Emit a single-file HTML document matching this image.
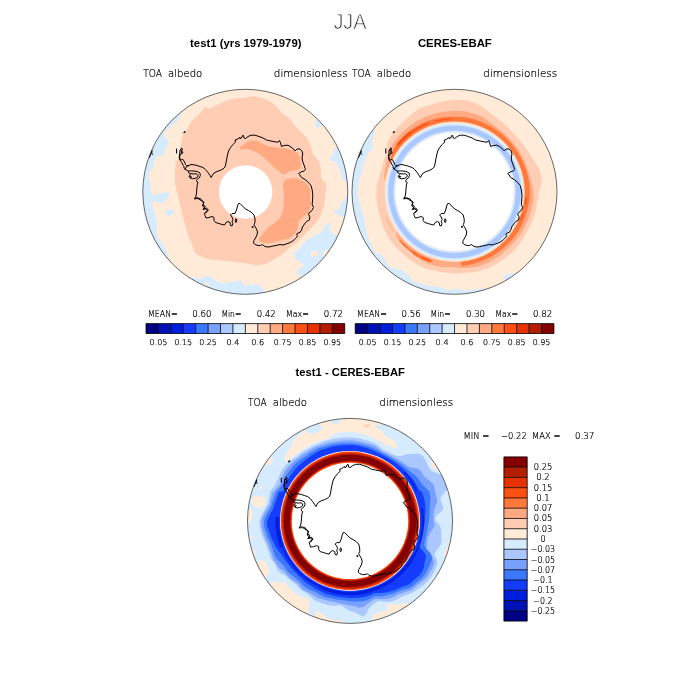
<!DOCTYPE html>
<html><head><meta charset="utf-8"><title>JJA</title>
<style>html,body{margin:0;padding:0;background:#fff}svg{display:block}text{font-family:"Liberation Sans",sans-serif}text.h{font-family:"DejaVu Sans Light","DejaVu Sans","Liberation Sans",sans-serif;font-weight:200;fill:#000;stroke:#000;stroke-width:0.2px}</style>
</head><body>
<svg width="700" height="700" viewBox="0 0 700 700">
<rect width="700" height="700" fill="#fff"/>
<defs><clipPath id="cl"><circle cx="245.3" cy="191.8" r="102.5"/></clipPath></defs>
<g clip-path="url(#cl)"><rect x="140" y="85" width="212" height="212" fill="#ffebd7"/>
<path d="M175.0,185.0 175.0,170.7 175.7,162.1 179.3,156.4 180.7,147.9 181.4,142.1 182.9,135.0 187.1,129.3 190.0,123.6 192.9,120.0 197.1,115.7 201.4,111.4 205.0,107.1 210.0,108.6 217.1,105.0 225.7,100.7 234.3,98.6 240.0,97.9 246.3,97.6 254.1,96.0 263.6,98.4 271.4,102.3 277.7,107.8 282.4,114.1 290.3,118.8 293.4,124.3 298.1,129.0 302.9,133.7 307.6,138.4 310.7,145.5 312.5,153.0 315.0,157.0 318.5,160.5 320.0,165.0 321.0,170.0 320.5,176.0 323.0,181.0 326.5,184.0 326.0,190.0 325.0,195.0 324.5,202.0 324.0,207.0 322.0,211.0 321.0,215.0 318.0,220.0 310.0,229.0 307.0,232.0 304.0,235.0 300.0,239.0 296.0,243.0 292.0,246.0 288.0,249.0 284.0,253.0 280.0,256.0 275.0,259.0 270.0,261.5 266.0,264.0 260.0,265.0 253.0,264.8 246.0,263.5 240.0,262.5 230.0,261.5 222.0,260.5 214.0,260.0 208.0,259.0 202.0,257.0 197.0,254.5 194.5,252.0 193.5,248.0 191.5,243.0 189.0,238.0 187.0,232.0 185.5,226.0 184.0,221.0 182.5,215.0 181.5,210.0 180.0,205.0 179.0,200.0 176.9,191.3 175.4,185.0Z" fill="#ffcdb4"/>
<path d="M240.0,147.5 242.0,145.5 245.0,143.5 248.0,141.5 252.0,140.5 257.0,140.8 261.0,143.0 265.0,145.0 270.0,146.5 275.0,147.5 280.0,148.0 285.0,148.5 290.0,149.5 294.0,151.0 297.5,153.0 299.5,156.0 300.5,160.0 301.0,165.0 300.0,168.5 297.0,170.0 293.0,170.5 289.0,171.5 286.0,173.5 284.0,174.5 281.0,173.0 277.0,170.0 273.0,166.5 269.0,162.5 265.0,158.5 261.0,155.0 257.0,152.5 252.0,150.5 247.0,149.0 243.0,149.0 240.0,149.5Z" fill="#ffaa82"/>
<path d="M284.0,181.0 287.0,179.0 292.0,178.0 297.0,178.5 301.0,180.0 305.0,182.0 308.0,185.0 310.0,189.0 310.5,194.0 310.5,200.0 311.0,206.0 310.0,210.0 308.0,212.5 307.5,216.0 308.0,220.0 310.0,209.5 308.0,213.0 305.0,215.5 301.5,218.5 298.5,221.5 298.0,226.0 297.0,230.0 295.0,233.5 292.0,236.5 288.0,239.0 283.0,240.0 278.0,241.0 273.0,242.5 268.0,243.0 263.0,242.5 259.5,241.0 259.0,238.5 260.5,236.5 263.5,233.5 266.0,230.0 268.0,227.0 271.0,225.5 275.0,222.5 279.0,219.0 281.5,215.0 283.0,210.0 283.5,205.0 284.0,200.0 283.5,192.0 283.0,186.0Z" fill="#ffaa82"/>
<path d="M182.9,111.4 178.6,118.6 176.4,122.1 170.7,126.4 163.6,133.6 164.3,137.1 168.6,139.3 167.9,145.0 165.0,149.3 164.3,155.0 157.1,156.4 154.3,160.7 153.6,167.9 148.6,172.1 148.6,177.9 150.7,185.0 150.2,191.3 154.1,196.0 158.9,192.9 163.6,192.9 169.1,192.1 169.9,196.0 165.9,199.9 162.0,203.9 155.7,201.5 151.8,202.3 153.4,208.6 155.7,216.4 157.3,222.7 156.5,229.0 157.3,236.9 162.0,243.1 165.9,249.4 168.3,255.7 167.5,259.6 158.9,266.7 100,260 100,100Z" fill="#d7ebff"/>
<path d="M165.1,211.7 167.5,209.4 170.6,210.1 173.0,209.4 174.9,210.9 173.8,213.3 171.4,214.1 169.9,216.4 166.7,215.6 165.1,214.1Z" fill="#d7ebff"/>
<path d="M191.9,277.7 199.7,278.5 207.6,275.4 211.5,276.9 215.4,280.9 221.7,283.2 228.0,282.4 234.3,281.6 240.6,280.1 243.7,285.6 250.0,285.6 244.7,285.6 252.6,284.0 260.4,285.6 263.6,290.3 265.1,295.0 265,320 170,320Z" fill="#d7ebff"/>
<path d="M204.5,282.5 206.2,281.8 208.5,284.0 209.0,286.2 206.5,285.5 204.8,284.5Z" fill="#ffebd7"/>
<path d="M214.0,286.0 215.5,285.8 215.8,287.0 214.2,287.2Z" fill="#ffebd7"/>
<path d="M330.3,222.3 327.7,224.0 324.3,225.7 323.0,228.3 322.6,230.9 320.0,233.4 315.7,234.3 313.1,236.0 309.7,238.6 305.4,241.1 302.9,243.7 300.3,248.0 296.9,250.6 294.3,253.1 294.3,256.6 296.0,260.0 302.0,263.0 304.0,266.0 300.0,268.5 297.0,270.0 296.6,273.0 300.5,276.1 302.9,279.3 330,300 370,260 346,237 337.6,235.6 333.7,234.3 332.0,232.6 329.4,230.0 329.0,227.4 330.7,224.9Z" fill="#d7ebff"/>
<path d="M310.1,253.1 313.1,250.6 316.6,251.0 318.3,254.0 317.4,256.1 314.0,256.6 311.0,255.7Z" fill="#ffebd7"/>
<path d="M323.9,251.4 326.0,249.3 328.6,249.7 327.7,253.1 324.3,256.6 323.0,254.9Z" fill="#ffebd7"/>
<path d="M315.1,119.6 318.6,120.4 323.3,125.1 320.1,127.4 316.2,127.4 315.1,124.3Z" fill="#d7ebff"/>
<path d="M335.1,147.1 350.0,160.4 350.0,183.0 346.5,182.0 343.0,180.0 341.5,175.0 340.0,170.0 337.0,165.0 336.0,161.5 330.5,161.0 330.0,158.0 332.0,155.0 334.0,150.0Z" fill="#d7ebff"/>
<path d="M346.0,196.0 344.0,200.0 341.4,202.6 339.7,206.9 338.0,210.3 334.6,211.1 334.1,212.9 338.0,214.6 340.6,216.3 343.1,217.1 344.9,215.9 352,214 352,195Z" fill="#d7ebff"/>
<circle cx="245.60000000000002" cy="192.0" r="26.8" fill="#fff"/>
<g fill="none" stroke="#000" stroke-width="1" stroke-linejoin="round"><polyline points="182.0,148.0 180.5,150.0 182.0,151.5 181.0,154.0 179.5,156.5 180.0,159.0 181.5,160.0 182.5,159.0 184.0,161.0 185.0,163.0 185.5,164.5 186.5,165.5 189.0,165.5 191.0,164.5 194.0,164.8 197.0,165.5 200.0,166.5 203.0,167.5 205.5,169.5 208.0,172.5 210.0,175.5 211.2,177.5 212.5,175.0 214.0,173.0 217.0,171.5 220.0,170.5 223.0,169.0 225.0,167.0 225.8,164.0 226.5,160.0 227.5,155.0 228.5,151.0 230.5,147.5 233.0,144.5 235.5,142.0 235.0,140.0 237.0,139.5 239.0,138.0 240.0,137.5 240.0,138.5 241.5,138.0 242.5,135.5 243.5,135.5 244.0,138.0 245.5,138.5 248.0,136.5 251.0,135.2 255.0,135.2 259.0,136.5 263.0,138.0 266.5,140.0 271.0,141.0 275.0,141.8 278.0,142.2 279.5,140.5 280.5,143.0 281.5,146.5 284.0,145.5 288.0,145.2 291.0,147.0 294.0,149.5 295.0,151.0 297.0,149.0 300.0,149.0 302.0,151.0 302.8,154.0 302.0,157.0 302.5,161.0 304.0,165.0 305.5,169.5 304.0,171.0 301.0,172.0 298.5,173.5 300.0,175.0 301.0,177.0 301.5,177.5 305.0,179.5 308.5,182.5 311.0,185.5 312.2,190.0 312.8,195.0 312.5,200.0 312.2,204.5 313.5,207.5 312.0,210.5 309.5,212.5 308.5,214.5 309.8,216.5 309.5,220.0 306.5,221.5 304.5,224.0 302.5,227.0 301.5,230.0 300.0,232.5 298.0,233.0 296.5,234.0 297.5,235.5 296.5,237.5 294.5,239.5 292.0,241.5 289.0,243.0 286.0,244.0 283.0,245.0 280.0,244.5 276.0,245.5 273.0,246.0 270.0,246.8 267.0,247.0 264.0,246.0 262.5,244.5 260.5,245.5 258.0,245.5 255.0,244.5 253.5,243.0 254.0,240.5 255.5,238.0 257.0,235.0 257.5,232.0 256.5,229.0 255.0,226.5 254.0,224.5 255.0,222.5 255.0,219.0 254.0,215.0 251.5,212.5 248.5,210.5 245.5,209.0 242.5,206.0 240.0,203.5 240.0,203.5 238.5,203.5 237.5,206.0 236.5,210.0 235.0,213.5 232.0,213.5 230.5,215.0 232.0,217.0 233.0,219.5 232.0,221.5 232.8,223.5 232.0,226.0 230.5,225.5 230.0,222.5 228.0,221.5 226.0,222.5 224.5,225.0 222.0,224.5 219.0,223.5 215.5,222.5 214.0,220.5 214.0,217.5 212.0,216.5 209.0,217.5 206.0,218.0 205.0,215.5 204.5,213.0 206.5,212.5 207.5,210.0 205.5,209.0 203.0,209.5 204.5,207.5 202.5,206.0 203.5,203.5 202.5,201.0 200.0,200.0 200.0,200.0 199.0,198.5 197.5,197.5 196.0,199.0 194.5,198.5 196.0,196.0 196.5,193.0 196.8,189.0 197.2,185.0 198.0,182.5 197.0,182.0 196.5,180.5 197.7,178.9 199.4,177.7 200.3,175.4 200.0,173.1 197.7,171.7 194.9,171.1 191.4,170.9 188.6,171.1 185.1,169.4 183.7,168.0 184.3,166.9 183.4,165.7 182.0,162.9 180.0,160.0 179.2,157.1 179.7,154.0 180.0,150.0 182.0,148.0"/><polyline points="188.6,171.1 188.4,172.8 190.5,173.6 194.0,174.0 196.2,173.7 197.7,174.6 198.1,176.0 197.0,177.6 195.0,178.4 192.5,178.8 190.3,178.2 189.2,176.8 189.6,175.2 191.0,174.6"/><polyline points="190.8,176.0 191.5,176.8 190.8,177.6 190.0,176.8 190.8,176.0"/><polyline points="185.1,169.4 185.7,168.0 186.8,166.3 189.1,165.7"/><polyline points="180.8,147.6 182.8,149.5 181.2,151.0 183.0,152.5 181.5,154.0"/><polyline points="176.5,148.5 176.6,153.5"/><polyline points="183.8,132.4 185.2,131.8"/><polyline points="236.0,218.7 236.8,220.0 236.4,222.2 235.5,222.2 235.2,220.5 236.0,218.7"/><polyline points="251.8,227.0 253.0,226.2 253.2,227.4 251.8,227.0"/><polyline points="149,158 150.5,155 151.5,151.5 152,150.4 151.8,153.5 152.6,154.8"/><polyline points="183.6,132.6 185.2,131.7 185.0,132.4 183.8,132.8"/><polyline points="201.2,200.2 204.0,202.2 202.8,204.8 205.2,206.2 203.8,208.4 206.6,208.2 208.4,209.8 207.0,211.6 205.6,212.0"/><polyline points="194.5,199.0 196.2,197.6 198.0,199.0 200.0,198.4 201.8,200.0"/></g>
</g>
<circle cx="245.3" cy="191.8" r="102.5" fill="none" stroke="#2a2a2a" stroke-width="0.7"/>
<defs><clipPath id="cr"><circle cx="454.5" cy="191.8" r="102.5"/></clipPath></defs>
<g clip-path="url(#cr)"><rect x="350" y="85" width="212" height="212" fill="#ffebd7"/>
<path d="M371.2,126.6 375.1,132.1 372.0,140.0 372.8,147.9 368.9,152.6 365.7,158.9 362.6,166.7 361.8,173.0 359.4,179.3 357.9,187.1 357.1,195.0 357.9,194.4 359.4,202.3 361.8,210.1 364.1,219.6 365.7,227.4 367.3,235.3 370.4,243.1 373.6,249.4 376.7,254.1 381.4,254.1 386.1,260.4 388.5,266.7 394.0,268.3 401.9,269.9 408.1,274.6 412.9,280.9 419.1,283.2 428.6,285.6 438.0,287.1 447.4,289.5 460.0,293.4 450.0,290.3 456.3,288.7 462.6,289.5 465.7,293.4 468.9,295.0 470,300 345,300 345,100Z" fill="#d7ebff"/>
<path d="M503.4,276.9 506.6,274.6 512.9,273.0 519.1,275.4 523.9,273.0 528.6,279.3 512.9,291.9Z" fill="#d7ebff"/>
<path d="M463.0,291.2 467.0,290.5 472.0,289.8 480.0,288.8 485.0,288.3 486.5,290.0 476.0,295.0 463.0,297.0Z" fill="#d7ebff"/>
<path d="M454.5,100.1 457.7,100.0 460.9,100.0 464.1,100.1 467.3,100.6 470.4,101.4 473.5,102.4 476.5,103.7 479.3,105.2 482.1,106.8 484.7,108.7 487.3,110.7 489.7,112.7 492.2,114.4 494.7,116.3 497.0,118.2 499.4,120.0 501.7,121.9 503.9,123.8 506.1,125.8 508.2,127.8 510.2,129.9 512.2,132.1 514.2,134.1 516.2,136.3 518.1,138.4 520.0,140.6 521.8,142.9 523.5,145.2 525.3,147.6 527.0,150.0 528.6,152.4 530.2,154.9 531.8,157.4 533.4,159.9 534.9,162.5 536.6,165.1 538.6,167.7 539.6,170.6 540.4,173.5 541.2,176.5 541.4,179.6 541.5,182.7 541.1,185.7 540.0,188.8 538.9,191.8 538.6,194.7 538.2,197.7 537.6,200.5 537.2,203.4 536.7,206.3 536.1,209.1 535.4,212.0 534.6,214.8 533.7,217.5 532.6,220.2 531.4,222.9 530.1,225.5 528.9,228.1 527.6,230.7 526.2,233.2 524.7,235.7 523.3,238.2 521.7,240.6 520.1,243.0 518.4,245.4 516.5,247.7 514.6,249.9 512.6,252.0 510.4,253.9 508.2,255.7 505.8,257.5 503.5,259.2 501.1,260.9 498.7,262.6 496.2,264.1 493.7,265.4 491.0,266.7 488.4,267.9 485.7,269.0 483.0,270.1 480.2,270.9 477.4,271.6 474.5,272.1 471.7,272.5 468.8,272.7 465.9,272.7 463.0,273.1 460.2,273.4 457.4,273.6 454.5,273.4 451.7,273.1 448.8,272.8 446.0,272.6 443.2,272.3 440.4,271.9 437.6,271.3 434.8,270.7 432.0,270.1 429.3,269.4 426.5,268.7 423.8,267.7 421.3,266.5 418.7,265.2 416.2,263.8 413.8,262.3 411.4,260.7 409.1,259.1 406.9,257.4 404.7,255.6 402.6,253.7 400.6,251.7 398.6,249.7 396.7,247.7 394.7,245.6 392.9,243.5 391.1,241.4 389.4,239.1 388.0,236.7 386.6,234.2 385.3,231.7 384.1,229.2 383.1,226.6 382.1,224.0 381.3,221.4 380.5,218.7 379.8,216.1 379.1,213.4 378.4,210.8 377.9,208.1 377.4,205.4 376.9,202.7 376.5,200.0 376.5,197.3 376.5,194.5 376.5,191.8 376.5,189.1 376.7,186.4 377.1,183.7 377.9,181.0 378.6,178.4 379.3,175.8 380.1,173.3 381.0,170.7 381.8,168.2 382.4,165.5 383.0,162.9 383.8,160.3 384.7,157.7 385.6,155.2 385.9,152.2 386.4,149.2 386.9,146.2 387.6,143.2 388.4,140.1 390.0,137.6 391.6,135.2 393.4,132.8 395.2,130.4 397.2,128.1 399.2,125.9 401.3,123.7 403.5,121.6 405.8,119.5 408.1,117.6 410.5,115.5 412.8,113.4 415.3,111.4 417.8,109.4 420.6,107.9 423.6,106.9 426.6,106.0 429.7,105.1 432.7,104.3 435.7,103.3 438.8,102.5 441.8,101.8 445.0,101.1 448.1,100.6 451.3,100.3Z" fill="#ffcdb4"/>
<path d="M454.5,110.8 457.3,110.9 460.1,111.0 463.0,111.3 465.8,111.7 468.5,112.2 471.3,112.9 474.0,113.6 476.7,114.5 479.3,115.5 481.9,116.5 484.3,118.1 486.6,119.7 488.8,121.4 491.1,122.9 493.3,124.5 495.5,126.2 497.6,127.9 499.7,129.5 501.8,131.3 503.8,133.1 505.7,134.9 507.7,136.8 509.5,138.7 511.3,140.7 513.0,142.7 514.7,144.8 516.3,146.9 517.8,149.1 519.3,151.3 520.7,153.6 522.0,155.9 523.2,158.3 524.3,160.7 525.4,163.2 526.3,165.7 527.2,168.2 528.0,170.7 528.9,173.3 529.7,175.8 530.4,178.4 530.9,181.1 531.7,183.7 532.3,186.4 532.9,189.1 533.3,191.8 533.5,194.6 533.6,197.3 533.6,200.1 532.9,202.8 532.3,205.5 531.7,208.2 531.0,210.9 530.3,213.5 529.4,216.1 528.4,218.7 527.4,221.2 526.2,223.7 525.1,226.2 523.8,228.7 522.5,231.1 521.1,233.4 519.5,235.6 517.8,237.8 516.1,239.9 514.3,241.9 512.5,244.0 510.6,246.0 508.7,247.9 506.7,249.8 504.6,251.6 502.5,253.3 500.3,254.9 498.1,256.5 495.9,258.1 493.6,259.5 491.3,260.9 488.8,262.2 486.3,263.3 483.8,264.4 481.2,265.3 478.6,266.1 476.0,266.8 473.3,267.2 470.6,267.6 467.9,267.9 465.2,268.1 462.5,268.0 459.8,267.8 457.1,267.6 454.5,267.3 451.9,266.9 449.3,266.8 446.6,266.9 443.9,266.9 441.3,266.9 438.6,266.6 436.0,266.0 433.4,265.3 430.8,264.6 428.3,263.8 425.9,262.6 423.6,261.3 421.3,259.9 419.1,258.4 416.9,256.9 414.8,255.3 412.7,253.8 410.6,252.2 408.6,250.5 406.6,248.8 404.8,247.1 402.9,245.2 401.2,243.3 399.5,241.3 398.0,239.2 396.5,237.1 396.2,234.1 396.1,231.2 396.1,228.3 395.6,225.8 394.5,223.7 393.4,221.6 392.4,219.5 391.5,217.3 390.6,215.1 389.8,212.8 389.1,210.5 388.5,208.3 388.0,205.9 387.5,203.6 387.2,201.3 386.9,198.9 386.7,196.5 386.5,194.2 386.5,191.8 386.5,189.4 386.7,187.1 386.9,184.7 385.7,182.1 384.5,179.5 384.1,176.8 384.3,174.3 384.7,171.8 385.1,169.2 385.6,166.7 386.1,164.2 386.8,161.7 387.5,159.1 388.2,156.5 388.9,153.9 389.7,151.3 390.6,148.7 391.7,146.1 393.0,143.7 394.5,141.5 396.2,139.3 397.9,137.2 399.7,135.1 401.6,133.1 403.6,131.2 405.7,129.3 407.8,127.5 410.0,125.8 412.2,124.2 414.5,122.6 416.9,121.2 419.4,119.8 421.9,118.5 424.4,117.3 427.0,116.2 429.6,115.2 432.3,114.4 435.0,113.6 437.7,112.9 440.5,112.3 443.3,111.9 446.1,111.5 448.9,111.2 451.7,110.9Z" fill="#ffaa82"/>
<path d="M454.5,116.8 457.1,116.8 459.7,116.8 462.4,117.0 465.0,117.2 467.6,117.7 470.1,118.2 472.7,118.8 475.2,119.6 477.7,120.4 480.2,121.3 482.6,122.3 485.0,123.4 487.3,124.5 489.6,125.8 491.9,127.1 494.1,128.4 496.3,129.9 498.4,131.4 500.5,132.9 502.5,134.6 504.5,136.3 506.4,138.1 508.2,139.9 510.0,141.9 511.7,143.8 513.3,145.9 514.9,148.0 516.3,150.1 517.8,152.3 519.1,154.5 520.4,156.7 521.6,159.1 522.8,161.4 523.8,163.8 524.8,166.2 525.7,168.7 526.5,171.2 527.2,173.7 527.9,176.2 528.4,178.8 528.9,181.3 529.3,183.9 529.5,186.6 529.7,189.2 529.8,191.8 529.9,194.4 529.7,197.1 529.4,199.7 529.1,202.3 528.6,204.9 528.0,207.4 527.4,210.0 526.6,212.5 525.8,215.0 525.0,217.5 524.0,219.9 523.0,222.3 521.9,224.7 520.7,227.0 519.5,229.3 518.1,231.5 516.6,233.7 515.1,235.8 513.5,237.9 511.8,239.9 510.0,241.8 508.2,243.6 506.3,245.4 504.4,247.2 502.4,248.9 500.4,250.5 498.3,252.1 496.2,253.6 494.0,255.0 491.8,256.3 489.5,257.6 487.1,258.7 484.7,259.7 482.3,260.7 479.9,261.6 477.5,262.5 475.0,263.3 472.5,264.0 470.0,264.6 467.4,265.2 464.9,265.6 462.3,265.9 459.3,260.5 456.9,260.2 454.5,259.8 452.1,259.8 449.8,259.6 447.4,259.4 445.0,259.1 442.7,258.8 440.4,258.3 438.0,257.8 435.8,257.2 433.5,256.5 431.2,255.7 429.0,254.8 426.8,253.9 424.7,252.9 422.6,251.8 420.5,250.7 418.5,249.5 416.5,248.2 414.5,246.8 412.6,245.4 410.8,243.9 409.0,242.3 407.3,240.7 405.6,239.0 404.0,237.3 402.4,235.5 400.9,233.7 399.5,231.8 398.1,229.8 396.8,227.8 395.6,225.8 394.5,223.7 393.4,221.6 392.4,219.5 391.5,217.3 390.6,215.1 389.8,212.8 389.1,210.5 388.5,208.3 388.0,205.9 387.5,203.6 387.2,201.3 386.9,198.9 386.7,196.5 386.5,194.2 386.5,191.8 386.5,189.4 386.7,187.1 386.9,184.7 387.2,182.3 387.5,180.0 388.0,177.7 388.5,175.3 389.1,173.1 389.8,170.8 390.6,168.5 390.5,166.0 390.6,163.3 390.7,160.7 391.0,158.0 391.4,155.4 391.9,152.7 392.8,150.2 394.2,148.0 395.7,145.9 397.2,143.8 398.9,141.7 400.5,139.7 402.3,137.8 404.2,135.9 406.1,134.1 408.1,132.4 410.1,130.7 412.2,129.1 414.4,127.7 416.7,126.3 419.0,125.0 421.3,123.8 423.7,122.7 426.2,121.6 428.6,120.7 431.1,119.9 433.7,119.2 436.2,118.5 438.8,118.0 441.4,117.5 444.0,117.2 446.6,116.9 449.3,116.8 451.9,116.8Z" fill="#ff783c"/>
<path d="M398.0,144.4 A73.8,73.8 0 0 1 410.1,132.9" fill="none" stroke="#ff5014" stroke-width="2.8" stroke-linecap="round"/>
<path d="M408.2,134.7 A73.5,73.5 0 0 1 428.2,123.2" fill="none" stroke="#ff5014" stroke-width="1.5" stroke-linecap="round"/>
<path d="M434.3,121.4 A73.2,73.2 0 0 1 451.9,118.6" fill="none" stroke="#ff5014" stroke-width="0.9" stroke-linecap="round"/>
<path d="M526.2,198.1 A72,72 0 0 1 525.4,204.3" fill="none" stroke="#ff5014" stroke-width="1.5" stroke-linecap="round"/>
<path d="M523.0,214.0 A72,72 0 0 1 520.8,219.9" fill="none" stroke="#ff5014" stroke-width="1.2" stroke-linecap="round"/>
<path d="M431.9,261.4 A73.2,73.2 0 0 1 400.1,240.8" fill="none" stroke="#ff783c" stroke-width="1.6" stroke-linecap="round"/>
<path d="M393.6,231.3 A72.6,72.6 0 0 1 386.3,216.6" fill="none" stroke="#ffaa82" stroke-width="0.9"/>
<path d="M429.4,260.7 A73.3,73.3 0 0 1 414.6,253.3" fill="none" stroke="#ff783c" stroke-width="3.2" stroke-linecap="round"/>
<path d="M430.7,260.8 A73.0,73.0 0 0 1 422.5,257.4" fill="none" stroke="#ff5014" stroke-width="1.2" stroke-linecap="round"/>
<path d="M416.8,254.5 A73.2,73.2 0 0 1 411.5,251.0" fill="none" stroke="#ff5014" stroke-width="1.0" stroke-linecap="round"/>
<path d="M406.5,247.0 A73.2,73.2 0 0 1 403.7,244.5" fill="none" stroke="#ff5014" stroke-width="0.9" stroke-linecap="round"/>
<circle cx="454.5" cy="191.8" r="70.3" fill="#ffcdb4"/>
<circle cx="454.5" cy="191.8" r="69.6" fill="#ffebd7"/>
<circle cx="454.5" cy="191.8" r="68.4" fill="#d7ebff"/>
<circle cx="454.5" cy="191.8" r="66.4" fill="#aac8ff"/>
<circle cx="454.5" cy="191.8" r="61.1" fill="#d7ebff"/>
<circle cx="454.5" cy="191.8" r="59.5" fill="#ffebd7"/>
<circle cx="454.5" cy="191.8" r="59.0" fill="#fff"/>
<g fill="none" stroke="#000" stroke-width="1" stroke-linejoin="round"><polyline points="391.2,148.0 389.7,150.0 391.2,151.5 390.2,154.0 388.7,156.5 389.2,159.0 390.7,160.0 391.7,159.0 393.2,161.0 394.2,163.0 394.7,164.5 395.7,165.5 398.2,165.5 400.2,164.5 403.2,164.8 406.2,165.5 409.2,166.5 412.2,167.5 414.7,169.5 417.2,172.5 419.2,175.5 420.4,177.5 421.7,175.0 423.2,173.0 426.2,171.5 429.2,170.5 432.2,169.0 434.2,167.0 435.0,164.0 435.7,160.0 436.7,155.0 437.7,151.0 439.7,147.5 442.2,144.5 444.7,142.0 444.2,140.0 446.2,139.5 448.2,138.0 449.2,137.5 449.2,138.5 450.7,138.0 451.7,135.5 452.7,135.5 453.2,138.0 454.7,138.5 457.2,136.5 460.2,135.2 464.2,135.2 468.2,136.5 472.2,138.0 475.7,140.0 480.2,141.0 484.2,141.8 487.2,142.2 488.7,140.5 489.7,143.0 490.7,146.5 493.2,145.5 497.2,145.2 500.2,147.0 503.2,149.5 504.2,151.0 506.2,149.0 509.2,149.0 511.2,151.0 512.0,154.0 511.2,157.0 511.7,161.0 513.2,165.0 514.7,169.5 513.2,171.0 510.2,172.0 507.7,173.5 509.2,175.0 510.2,177.0 510.7,177.5 514.2,179.5 517.7,182.5 520.2,185.5 521.4,190.0 522.0,195.0 521.7,200.0 521.4,204.5 522.7,207.5 521.2,210.5 518.7,212.5 517.7,214.5 519.0,216.5 518.7,220.0 515.7,221.5 513.7,224.0 511.7,227.0 510.7,230.0 509.2,232.5 507.2,233.0 505.7,234.0 506.7,235.5 505.7,237.5 503.7,239.5 501.2,241.5 498.2,243.0 495.2,244.0 492.2,245.0 489.2,244.5 485.2,245.5 482.2,246.0 479.2,246.8 476.2,247.0 473.2,246.0 471.7,244.5 469.7,245.5 467.2,245.5 464.2,244.5 462.7,243.0 463.2,240.5 464.7,238.0 466.2,235.0 466.7,232.0 465.7,229.0 464.2,226.5 463.2,224.5 464.2,222.5 464.2,219.0 463.2,215.0 460.7,212.5 457.7,210.5 454.7,209.0 451.7,206.0 449.2,203.5 449.2,203.5 447.7,203.5 446.7,206.0 445.7,210.0 444.2,213.5 441.2,213.5 439.7,215.0 441.2,217.0 442.2,219.5 441.2,221.5 442.0,223.5 441.2,226.0 439.7,225.5 439.2,222.5 437.2,221.5 435.2,222.5 433.7,225.0 431.2,224.5 428.2,223.5 424.7,222.5 423.2,220.5 423.2,217.5 421.2,216.5 418.2,217.5 415.2,218.0 414.2,215.5 413.7,213.0 415.7,212.5 416.7,210.0 414.7,209.0 412.2,209.5 413.7,207.5 411.7,206.0 412.7,203.5 411.7,201.0 409.2,200.0 409.2,200.0 408.2,198.5 406.7,197.5 405.2,199.0 403.7,198.5 405.2,196.0 405.7,193.0 406.0,189.0 406.4,185.0 407.2,182.5 406.2,182.0 405.7,180.5 406.9,178.9 408.6,177.7 409.5,175.4 409.2,173.1 406.9,171.7 404.1,171.1 400.6,170.9 397.8,171.1 394.3,169.4 392.9,168.0 393.5,166.9 392.6,165.7 391.2,162.9 389.2,160.0 388.4,157.1 388.9,154.0 389.2,150.0 391.2,148.0"/><polyline points="397.8,171.1 397.6,172.8 399.7,173.6 403.2,174.0 405.4,173.7 406.9,174.6 407.3,176.0 406.2,177.6 404.2,178.4 401.7,178.8 399.5,178.2 398.4,176.8 398.8,175.2 400.2,174.6"/><polyline points="400.0,176.0 400.7,176.8 400.0,177.6 399.2,176.8 400.0,176.0"/><polyline points="394.3,169.4 394.9,168.0 396.0,166.3 398.3,165.7"/><polyline points="390.0,147.6 392.0,149.5 390.4,151.0 392.2,152.5 390.7,154.0"/><polyline points="385.7,148.5 385.8,153.5"/><polyline points="393.0,132.4 394.4,131.8"/><polyline points="445.2,218.7 446.0,220.0 445.6,222.2 444.7,222.2 444.4,220.5 445.2,218.7"/><polyline points="461.0,227.0 462.2,226.2 462.4,227.4 461.0,227.0"/><polyline points="358.2,158.0 359.7,155.0 360.7,151.5 361.2,150.4 361.0,153.5 361.8,154.8"/><polyline points="392.8,132.6 394.4,131.7 394.2,132.4 393.0,132.8"/><polyline points="410.4,200.2 413.2,202.2 412.0,204.8 414.4,206.2 413.0,208.4 415.8,208.2 417.6,209.8 416.2,211.6 414.8,212.0"/><polyline points="403.7,199.0 405.4,197.6 407.2,199.0 409.2,198.4 411.0,200.0"/></g>
</g>
<circle cx="454.5" cy="191.8" r="102.5" fill="none" stroke="#2a2a2a" stroke-width="0.7"/>
<defs><clipPath id="cb"><circle cx="350.0" cy="520.9" r="102.5"/></clipPath></defs>
<g clip-path="url(#cb)"><rect x="245" y="415" width="212" height="212" fill="#d7ebff"/>
<path d="M320.0,429.0 318.0,432.0 314.0,434.0 308.0,433.0 305.0,430.0 302.0,433.0 298.0,436.0 293.0,440.0 292.0,445.0 289.0,450.0 286.0,454.0 284.5,459.0 285.0,462.0 288.0,461.0 292.0,458.0 296.0,454.0 302.0,450.0 308.0,446.0 314.0,443.0 320.0,441.0 328.0,438.5 335.0,433.0 345.0,431.8 355.0,432.2 365.0,434.5 377.0,440.0 382.0,442.0 386.0,445.0 391.0,446.5 395.0,448.5 397.0,446.5 396.0,443.0 392.0,439.0 386.0,437.0 384.0,433.0 381.5,429.0 381,405 320,405Z" fill="#ffebd7"/>
<path d="M331.0,420.0 340.0,420.0 339.0,423.5 336.5,424.5 333.5,423.0 331.5,423.5Z" fill="#d7ebff"/>
<path d="M315.0,426.0 323.0,427.0 321.0,430.0 317.0,432.0 315.0,432.2Z" fill="#d7ebff"/>
<path d="M375.0,425.0 385.0,426.0 385.0,431.0 380.0,429.5 376.0,427.5Z" fill="#d7ebff"/>
<path d="M363.0,425.5 367.0,424.2 370.0,424.0 369.5,426.5 365.0,427.5Z" fill="#ffcdb4"/>
<path d="M431.0,462.0 433.0,461.0 436.0,465.0 439.0,471.0 436.0,470.0 432.0,466.0Z" fill="#ffebd7"/>
<path d="M449.0,542.0 447.0,548.0 445.0,552.0 443.0,556.0 455.0,556.0 455.0,542.0Z" fill="#ffebd7"/>
<path d="M387.0,612.0 387.0,606.0 390.0,603.5 395.0,604.0 400.0,605.0 405.0,603.0 408.0,604.0 414.0,606.0 402.0,614.0Z" fill="#ffebd7"/>
<path d="M431.0,581.0 434.0,578.5 436.0,578.0 436.0,584.0Z" fill="#ffebd7"/>
<path d="M315.0,611.0 320.0,612.0 325.0,616.0 330.0,619.0 337.0,620.5 343.0,621.0 344.0,624.0 315.0,624.0Z" fill="#ffebd7"/>
<path d="M372.0,619.0 373.0,615.0 377.0,612.5 381.0,612.0 385.0,611.0 391.0,610.0 385.0,622.0 372.0,624.0Z" fill="#ffebd7"/>
<path d="M258.0,561.0 262.0,560.0 266.0,562.0 268.0,567.0 269.5,571.0 268.0,575.0 266.0,577.5 258.0,572.0Z" fill="#ffebd7"/>
<path d="M270.0,583.0 274.0,581.5 280.0,583.0 284.0,581.5 287.0,585.0 291.0,589.0 296.0,594.0 300.0,596.5 306.0,598.0 309.5,600.0 309.0,606.0 308.0,612.0 314.0,618.0 288.0,612.0 264.0,582.0Z" fill="#ffebd7"/>
<path d="M251.5,498.0 255.0,496.5 260.0,496.0 265.0,497.0 265.0,504.0 262.0,507.0 258.0,507.5 253.0,506.0 251.5,503.0Z" fill="#ffebd7"/>
<path d="M245.0,511.0 251.0,509.0 252.5,513.0 252.0,518.0 250.0,521.0 249.0,524.0 245.0,526.0Z" fill="#ffebd7"/>
<path d="M247.0,535.0 251.5,536.0 252.0,539.0 250.0,540.0 247.0,540.0Z" fill="#ffebd7"/>
<path d="M252.0,550.0 255.0,549.0 256.0,556.0 250.0,556.0Z" fill="#ffebd7"/>
<path d="M260.0,486.0 262.0,487.0 261.5,490.0 260.0,489.5Z" fill="#ffebd7"/>
<path d="M268.0,458.0 272.0,457.0 273.0,461.0 271.0,465.0 267.0,465.0 264.0,462.0Z" fill="#ffebd7"/>
<path d="M260.0,487.0 262.0,486.0 262.0,489.0 260.0,490.0Z" fill="#ffebd7"/>
<path d="M350.0,437.5 352.9,437.6 355.8,437.9 358.7,438.5 361.5,439.1 364.3,439.8 367.1,440.6 369.8,441.5 372.5,442.5 375.1,443.6 377.5,445.3 379.8,447.1 382.0,449.0 384.5,450.2 386.9,451.5 389.4,452.6 391.9,453.9 394.5,454.9 397.1,456.0 400.5,456.3 405.8,454.4 410.2,454.1 414.9,453.7 419.5,453.8 422.5,455.7 424.5,458.4 426.2,461.4 427.5,464.6 429.0,467.6 430.7,470.5 434.2,472.3 438.8,473.7 443.0,475.6 445.4,478.4 447.7,481.4 450.0,484.5 448.0,489.1 442.7,494.3 440.3,498.4 441.1,501.5 442.3,504.6 443.5,507.8 441.8,511.3 437.3,514.8 435.0,517.9 436.0,520.9 439.0,524.0 440.6,527.2 441.3,530.5 441.4,533.8 441.1,537.0 441.6,540.4 441.2,543.6 439.6,546.6 437.5,549.3 435.5,552.0 434.6,555.1 436.9,559.6 437.4,563.5 436.1,566.7 434.9,569.9 433.4,573.0 431.6,576.0 429.6,578.8 427.5,581.4 424.9,583.7 422.2,585.9 419.4,588.0 416.7,590.0 414.0,592.0 410.8,593.3 407.6,594.6 404.4,595.8 401.4,597.1 398.4,598.4 395.7,600.0 392.7,601.3 389.5,601.9 386.0,601.8 382.6,601.5 379.2,601.0 376.5,602.3 373.7,603.7 371.2,605.9 368.7,608.8 366.4,613.7 363.4,616.6 359.9,614.9 356.4,612.9 353.2,611.7 350.0,611.0 346.9,609.2 344.0,607.3 341.1,605.1 338.1,605.5 335.0,606.0 332.0,605.7 329.0,605.2 326.0,604.7 323.1,603.8 320.2,602.8 317.4,601.6 314.6,600.3 312.2,598.3 310.0,596.0 307.7,594.2 305.4,592.3 302.8,590.9 300.3,589.3 298.2,587.2 296.5,584.7 294.2,582.9 291.7,581.2 289.4,579.4 287.3,577.4 285.2,575.2 282.2,573.9 279.4,572.2 277.5,569.8 276.2,567.0 275.1,564.2 273.1,561.8 271.2,559.3 270.1,556.5 269.1,553.6 268.2,550.7 267.2,547.8 266.3,544.9 265.0,542.1 263.6,539.3 262.4,536.3 261.4,533.4 260.5,530.3 259.8,527.2 259.5,524.1 259.5,520.9 260.4,517.8 261.7,514.7 263.3,511.8 265.0,509.0 266.6,506.2 268.1,503.5 268.5,500.6 269.0,497.7 269.5,494.7 270.1,491.8 271.8,489.3 273.6,486.9 275.3,484.4 276.5,481.8 277.9,479.3 279.0,476.5 280.2,473.8 281.5,471.1 283.0,468.6 284.8,466.2 286.9,464.0 289.0,462.0 291.5,460.3 293.9,458.6 296.3,456.9 298.5,455.0 300.8,453.2 303.3,451.6 305.8,450.2 308.4,448.8 310.8,447.2 313.4,445.8 316.1,444.7 318.8,443.6 321.4,442.4 324.1,441.3 326.9,440.4 329.7,439.7 332.6,439.0 335.5,438.4 338.4,438.0 341.3,437.7 344.2,437.5 347.1,437.5Z" fill="#aac8ff"/>
<path d="M350.0,440.5 352.8,440.6 355.6,440.9 358.4,441.4 361.1,442.0 363.8,442.7 366.5,443.4 369.2,444.1 371.8,444.9 374.4,445.8 376.8,447.3 379.0,449.0 381.2,450.8 383.5,452.2 385.9,453.4 388.3,454.6 390.7,455.8 393.1,457.0 395.5,458.2 397.9,459.5 400.3,460.9 402.6,462.4 404.9,464.1 407.2,465.7 409.6,467.2 413.2,467.9 417.2,468.4 419.9,470.1 421.8,472.5 423.2,475.2 425.4,477.4 428.0,479.4 430.6,481.6 433.0,483.9 434.3,486.8 434.8,490.0 435.4,493.1 436.4,496.1 437.0,499.2 437.0,502.4 435.7,505.8 434.4,509.0 433.9,512.1 433.5,515.1 433.6,518.0 433.5,520.9 434.6,523.9 434.1,526.8 432.6,529.6 430.6,532.2 429.1,534.8 427.9,537.5 427.4,540.2 427.0,543.0 427.0,545.9 426.2,548.6 425.3,551.3 430.1,556.6 434.5,562.1 433.5,565.3 432.2,568.4 430.5,571.2 428.8,574.1 427.1,576.9 424.7,579.3 422.1,581.4 419.4,583.4 416.8,585.4 414.4,587.6 412.1,589.9 408.8,591.0 405.5,592.0 402.3,592.9 399.4,594.1 396.5,595.3 393.7,596.7 390.9,597.9 388.0,598.7 384.8,599.1 381.6,599.2 378.5,599.2 375.4,599.0 372.8,600.4 370.2,601.9 367.6,603.5 365.0,606.0 362.1,607.2 359.1,607.7 356.0,606.4 353.0,605.8 350.0,605.4 347.1,604.9 344.2,604.3 341.3,603.7 338.5,603.0 335.7,602.2 332.8,601.7 330.0,601.2 327.2,600.5 324.4,599.8 321.5,599.1 318.8,598.2 316.1,596.9 313.7,595.4 311.2,594.0 308.7,592.4 306.0,591.3 303.3,590.1 301.3,587.9 299.5,585.5 297.5,583.5 295.3,581.7 292.6,580.3 290.4,578.5 288.4,576.4 286.5,574.2 284.7,571.9 282.3,570.1 279.6,568.4 277.8,566.0 276.3,563.5 274.5,561.0 272.9,558.5 272.3,555.5 271.3,552.7 270.0,550.0 269.0,547.2 268.1,544.4 266.8,541.7 265.4,538.9 264.3,536.0 263.3,533.1 262.5,530.1 261.7,527.1 261.5,524.0 261.5,520.9 262.3,517.8 263.6,514.9 265.2,512.0 266.9,509.2 268.4,506.5 270.0,503.9 270.4,501.1 271.0,498.2 271.8,495.5 272.7,492.8 274.5,490.4 276.6,488.2 278.7,486.1 280.3,483.8 281.0,481.1 281.9,478.3 282.9,475.6 284.0,473.0 285.5,470.5 287.1,468.2 289.0,466.0 291.0,463.9 293.1,461.9 295.3,460.1 297.5,458.4 299.8,456.7 302.2,455.1 304.6,453.6 306.9,452.0 309.3,450.4 311.8,449.0 314.3,447.8 316.9,446.6 319.6,445.7 322.3,444.8 325.0,444.0 327.7,443.3 330.5,442.6 333.2,442.1 336.0,441.6 338.8,441.2 341.6,440.8 344.4,440.5 347.2,440.5Z" fill="#78a0ff"/>
<path d="M350.0,443.2 352.7,443.3 355.4,443.6 358.1,444.0 360.7,444.5 363.4,445.1 366.0,445.8 368.5,446.6 371.1,447.4 373.6,448.4 376.0,449.5 378.3,450.8 380.6,452.1 382.9,453.4 385.3,454.6 387.6,455.8 389.8,457.1 392.1,458.5 394.4,459.8 396.6,461.2 398.8,462.7 401.0,464.3 403.2,465.9 405.3,467.5 407.4,469.3 409.5,470.9 411.7,472.7 414.0,474.4 416.2,476.2 417.9,478.5 419.6,480.7 421.3,483.0 423.2,485.2 425.3,487.4 427.4,489.6 429.5,492.0 430.0,494.9 430.5,497.8 430.3,500.9 430.0,503.9 429.8,506.8 429.5,509.7 429.6,512.5 429.5,515.3 429.3,518.1 429.0,520.9 428.5,523.6 427.9,526.4 427.4,529.0 426.9,531.7 426.4,534.4 425.8,537.0 425.3,539.7 424.8,542.3 424.2,545.0 426.5,548.7 430.3,553.3 432.7,557.7 431.6,560.7 430.4,563.6 429.2,566.6 427.8,569.5 426.3,572.4 424.6,575.1 422.5,577.5 420.1,579.7 417.5,581.7 415.2,583.8 412.8,585.9 410.3,587.8 407.0,588.8 403.7,589.6 400.6,590.6 397.8,591.7 395.0,592.9 392.2,593.9 389.2,594.6 386.3,595.2 383.5,596.1 380.5,596.4 377.4,596.2 374.5,596.3 372.0,597.7 369.5,599.0 366.9,600.2 364.1,601.1 361.3,601.3 358.5,601.5 355.6,601.5 352.8,601.4 350.0,601.2 347.2,600.8 344.4,600.4 341.7,600.1 338.9,599.7 336.2,599.2 333.4,598.8 330.7,598.3 328.0,597.7 325.3,597.1 322.7,596.0 320.1,594.8 317.7,593.5 315.3,592.1 312.7,591.1 310.1,590.0 307.7,588.7 305.3,587.2 303.2,585.3 301.3,583.3 299.3,581.3 297.4,579.4 295.2,577.7 293.0,576.0 290.7,574.3 288.5,572.5 286.9,570.2 285.4,567.8 283.6,565.7 281.6,563.6 279.5,561.6 277.4,559.5 275.8,557.1 274.3,554.6 273.4,551.8 272.7,549.1 271.7,546.3 270.8,543.6 269.4,541.0 268.1,538.3 267.1,535.5 266.2,532.7 265.2,529.8 264.3,526.9 264.0,523.9 264.0,520.9 265.0,517.9 266.4,515.1 268.0,512.3 269.6,509.6 270.8,506.9 271.9,504.3 272.7,501.6 273.6,499.0 274.5,496.4 275.4,493.7 276.7,491.3 278.7,489.1 280.8,487.1 282.3,484.9 283.2,482.3 284.1,479.7 285.3,477.3 286.6,474.8 288.1,472.5 289.8,470.4 291.5,468.3 293.2,466.1 295.0,464.0 297.1,462.2 299.3,460.5 301.6,458.9 303.8,457.4 306.2,455.9 308.4,454.3 310.7,452.8 313.0,451.4 315.4,449.9 317.8,448.6 320.4,447.7 323.1,447.0 325.7,446.3 328.4,445.5 331.0,444.8 333.7,444.2 336.4,443.8 339.1,443.5 341.8,443.3 344.6,443.2 347.3,443.2Z" fill="#3c78ff"/>
<path d="M350.0,445.0 352.6,445.1 355.3,445.2 357.9,445.7 360.5,446.3 363.0,446.9 365.6,447.7 368.0,448.5 370.5,449.5 372.9,450.5 375.2,451.6 377.6,452.7 379.9,453.8 382.1,455.1 384.4,456.2 386.7,457.3 388.9,458.6 391.1,459.9 393.3,461.3 395.4,462.8 397.5,464.3 399.5,465.9 401.5,467.6 403.4,469.3 405.2,471.2 407.1,473.0 408.9,474.9 410.7,476.8 412.4,478.8 414.0,480.9 415.4,483.2 416.7,485.4 417.9,487.8 419.2,490.1 421.8,491.9 422.9,494.4 423.7,497.0 424.3,499.6 424.8,502.3 425.1,504.9 425.4,507.6 425.5,510.3 425.3,513.0 425.0,515.7 425.0,518.3 425.0,520.9 424.5,523.5 424.0,526.1 423.5,528.6 423.0,531.2 422.5,533.7 421.9,536.2 421.2,538.7 420.5,541.1 419.8,543.6 419.0,546.0 422.1,550.0 425.7,554.6 425.8,557.9 425.0,560.8 424.4,563.8 424.0,567.1 422.8,570.0 421.4,572.8 419.6,575.3 417.3,577.3 414.8,579.2 412.6,581.4 410.3,583.3 407.8,585.1 404.7,586.1 401.7,587.1 398.9,588.3 396.2,589.4 393.5,590.5 390.6,591.3 387.7,591.9 384.9,592.5 382.1,593.0 379.2,593.1 376.3,593.0 373.6,593.6 371.2,594.7 368.7,595.7 366.1,596.6 363.5,597.2 360.8,597.6 358.1,597.8 355.4,598.0 352.7,598.0 350.0,597.9 347.3,597.7 344.6,597.5 342.0,597.2 339.3,596.8 336.7,596.4 334.1,595.8 331.5,595.3 328.9,594.6 326.3,593.9 323.8,593.0 321.4,591.8 319.0,590.6 316.7,589.2 314.4,587.9 312.1,586.5 309.8,585.2 307.6,583.7 305.5,582.1 303.5,580.4 301.5,578.6 299.7,576.8 297.9,574.9 296.0,573.1 294.1,571.2 292.4,569.3 290.7,567.2 289.1,565.1 287.4,563.1 285.8,561.0 284.2,558.9 282.7,556.7 281.3,554.4 279.5,552.3 277.8,550.1 276.3,547.7 275.1,545.3 273.9,542.7 272.5,540.2 271.3,537.6 270.3,535.0 269.4,532.2 268.4,529.5 267.3,526.7 267.0,523.8 267.0,520.9 268.4,518.1 269.8,515.3 271.1,512.6 272.5,510.0 273.6,507.4 274.6,504.9 275.5,502.3 276.3,499.8 277.2,497.3 278.0,494.7 278.9,492.2 283.5,491.3 284.3,488.9 285.2,486.4 286.0,483.9 286.8,481.4 288.1,479.1 289.4,476.9 290.9,474.8 292.6,472.7 294.2,470.7 295.8,468.6 297.5,466.6 299.5,464.8 301.5,463.1 303.6,461.5 305.6,459.8 307.7,458.2 309.9,456.7 312.1,455.2 314.3,453.8 316.6,452.4 318.9,451.1 321.4,450.1 323.9,449.3 326.5,448.5 329.0,447.6 331.5,446.9 334.1,446.2 336.8,445.8 339.4,445.5 342.1,445.3 344.7,445.2 347.4,445.1Z" fill="#143cff"/>
<path d="M414.1,555.0 A72.6,72.6 0 0 1 319.3,586.7" fill="none" stroke="#001edd" stroke-width="3.0"/>
<path d="M319.5,586.3 A72.2,72.2 0 0 1 282.2,545.6" fill="none" stroke="#001edd" stroke-width="1.6"/>
<path d="M421.9,508.2 A73,73 0 0 1 414.5,555.2" fill="none" stroke="#001edd" stroke-width="2.0"/>
<path d="M282.0,547.0 A72.8,72.8 0 0 1 277.3,517.1" fill="none" stroke="#001edd" stroke-width="3.6"/>
<path d="M404.2,472.1 A73,73 0 0 1 416.7,491.2" fill="none" stroke="#001edd" stroke-width="1.5"/>
<circle cx="350.0" cy="520.9" r="70.0" fill="#fff"/>
<circle cx="350.0" cy="520.9" r="69.3" fill="#ff5014"/>
<circle cx="350.0" cy="520.9" r="68.4" fill="#e63200"/>
<circle cx="350.0" cy="520.9" r="67.3" fill="#b41e00"/>
<circle cx="350.0" cy="520.9" r="66.2" fill="#840000"/>
<circle cx="350.0" cy="520.9" r="60.1" fill="#b41e00"/>
<circle cx="350.0" cy="520.9" r="59.4" fill="#e63200"/>
<circle cx="350.0" cy="520.9" r="58.8" fill="#ff5014"/>
<circle cx="350.0" cy="520.9" r="58.2" fill="#fff"/>
<g fill="none" stroke="#000" stroke-width="1" stroke-linejoin="round"><polyline points="286.7,477.1 285.2,479.1 286.7,480.6 285.7,483.1 284.2,485.6 284.7,488.1 286.2,489.1 287.2,488.1 288.7,490.1 289.7,492.1 290.2,493.6 291.2,494.6 293.7,494.6 295.7,493.6 298.7,493.9 301.7,494.6 304.7,495.6 307.7,496.6 310.2,498.6 312.7,501.6 314.7,504.6 315.9,506.6 317.2,504.1 318.7,502.1 321.7,500.6 324.7,499.6 327.7,498.1 329.7,496.1 330.5,493.1 331.2,489.1 332.2,484.1 333.2,480.1 335.2,476.6 337.7,473.6 340.2,471.1 339.7,469.1 341.7,468.6 343.7,467.1 344.7,466.6 344.7,467.6 346.2,467.1 347.2,464.6 348.2,464.6 348.7,467.1 350.2,467.6 352.7,465.6 355.7,464.3 359.7,464.3 363.7,465.6 367.7,467.1 371.2,469.1 375.7,470.1 379.7,470.9 382.7,471.3 384.2,469.6 385.2,472.1 386.2,475.6 388.7,474.6 392.7,474.3 395.7,476.1 398.7,478.6 399.7,480.1 401.7,478.1 404.7,478.1 406.7,480.1 407.5,483.1 406.7,486.1 407.2,490.1 408.7,494.1 410.2,498.6 408.7,500.1 405.7,501.1 403.2,502.6 404.7,504.1 405.7,506.1 406.2,506.6 409.7,508.6 413.2,511.6 415.7,514.6 416.9,519.1 417.5,524.1 417.2,529.1 416.9,533.6 418.2,536.6 416.7,539.6 414.2,541.6 413.2,543.6 414.5,545.6 414.2,549.1 411.2,550.6 409.2,553.1 407.2,556.1 406.2,559.1 404.7,561.6 402.7,562.1 401.2,563.1 402.2,564.6 401.2,566.6 399.2,568.6 396.7,570.6 393.7,572.1 390.7,573.1 387.7,574.1 384.7,573.6 380.7,574.6 377.7,575.1 374.7,575.9 371.7,576.1 368.7,575.1 367.2,573.6 365.2,574.6 362.7,574.6 359.7,573.6 358.2,572.1 358.7,569.6 360.2,567.1 361.7,564.1 362.2,561.1 361.2,558.1 359.7,555.6 358.7,553.6 359.7,551.6 359.7,548.1 358.7,544.1 356.2,541.6 353.2,539.6 350.2,538.1 347.2,535.1 344.7,532.6 344.7,532.6 343.2,532.6 342.2,535.1 341.2,539.1 339.7,542.6 336.7,542.6 335.2,544.1 336.7,546.1 337.7,548.6 336.7,550.6 337.5,552.6 336.7,555.1 335.2,554.6 334.7,551.6 332.7,550.6 330.7,551.6 329.2,554.1 326.7,553.6 323.7,552.6 320.2,551.6 318.7,549.6 318.7,546.6 316.7,545.6 313.7,546.6 310.7,547.1 309.7,544.6 309.2,542.1 311.2,541.6 312.2,539.1 310.2,538.1 307.7,538.6 309.2,536.6 307.2,535.1 308.2,532.6 307.2,530.1 304.7,529.1 304.7,529.1 303.7,527.6 302.2,526.6 300.7,528.1 299.2,527.6 300.7,525.1 301.2,522.1 301.5,518.1 301.9,514.1 302.7,511.6 301.7,511.1 301.2,509.6 302.4,508.0 304.1,506.8 305.0,504.5 304.7,502.2 302.4,500.8 299.6,500.2 296.1,500.0 293.3,500.2 289.8,498.5 288.4,497.1 289.0,496.0 288.1,494.8 286.7,492.0 284.7,489.1 283.9,486.2 284.4,483.1 284.7,479.1 286.7,477.1"/><polyline points="293.3,500.2 293.1,501.9 295.2,502.7 298.7,503.1 300.9,502.8 302.4,503.7 302.8,505.1 301.7,506.7 299.7,507.5 297.2,507.9 295.0,507.3 293.9,505.9 294.3,504.3 295.7,503.7"/><polyline points="295.5,505.1 296.2,505.9 295.5,506.7 294.7,505.9 295.5,505.1"/><polyline points="289.8,498.5 290.4,497.1 291.5,495.4 293.8,494.8"/><polyline points="285.5,476.7 287.5,478.6 285.9,480.1 287.7,481.6 286.2,483.1"/><polyline points="281.2,477.6 281.3,482.6"/><polyline points="288.5,461.5 289.9,460.9"/><polyline points="340.7,547.8 341.5,549.1 341.1,551.3 340.2,551.3 339.9,549.6 340.7,547.8"/><polyline points="356.5,556.1 357.7,555.3 357.9,556.5 356.5,556.1"/><polyline points="253.7,487.1 255.2,484.1 256.2,480.6 256.7,479.5 256.5,482.6 257.3,483.9"/><polyline points="288.3,461.7 289.9,460.8 289.7,461.5 288.5,461.9"/><polyline points="305.9,529.3 308.7,531.3 307.5,533.9 309.9,535.3 308.5,537.5 311.3,537.3 313.1,538.9 311.7,540.7 310.3,541.1"/><polyline points="299.2,528.1 300.9,526.7 302.7,528.1 304.7,527.5 306.5,529.1"/></g>
</g>
<circle cx="350.0" cy="520.9" r="102.5" fill="none" stroke="#2a2a2a" stroke-width="0.7"/>
<text x="333.4" y="28.9" font-size="21.6" textLength="33.2" lengthAdjust="spacingAndGlyphs" fill="#222" stroke="#fff" stroke-width="0.75">JJA</text>
<text x="190.1" y="46.5" font-size="11.5" textLength="111.4" lengthAdjust="spacingAndGlyphs" font-weight="bold" fill="#000">test1&#160;(yrs&#160;1979-1979)</text>
<text x="417.9" y="46.6" font-size="11.5" textLength="73.9" lengthAdjust="spacingAndGlyphs" font-weight="bold" fill="#000">CERES-EBAF</text>
<text x="295.6" y="376.4" font-size="11.5" textLength="109.4" lengthAdjust="spacingAndGlyphs" font-weight="bold" fill="#000">test1&#160;-&#160;CERES-EBAF</text>
<text x="143.2" y="77.3" font-size="10.8" textLength="18.8" lengthAdjust="spacingAndGlyphs" class="h" fill="#3a3a3a">TOA</text>
<text x="168.0" y="77.3" font-size="10.8" textLength="34.3" lengthAdjust="spacingAndGlyphs" class="h" fill="#3a3a3a">albedo</text>
<text x="273.8" y="77.3" font-size="10.8" textLength="73.8" lengthAdjust="spacingAndGlyphs" class="h" fill="#3a3a3a">dimensionless</text>
<text x="352.0" y="77.3" font-size="10.8" textLength="18.8" lengthAdjust="spacingAndGlyphs" class="h" fill="#3a3a3a">TOA</text>
<text x="376.8" y="77.3" font-size="10.8" textLength="34.3" lengthAdjust="spacingAndGlyphs" class="h" fill="#3a3a3a">albedo</text>
<text x="483.3" y="77.3" font-size="10.8" textLength="73.8" lengthAdjust="spacingAndGlyphs" class="h" fill="#3a3a3a">dimensionless</text>
<text x="247.9" y="406.3" font-size="10.8" textLength="18.8" lengthAdjust="spacingAndGlyphs" class="h" fill="#3a3a3a">TOA</text>
<text x="272.7" y="406.3" font-size="10.8" textLength="34.3" lengthAdjust="spacingAndGlyphs" class="h" fill="#3a3a3a">albedo</text>
<text x="379.3" y="406.3" font-size="10.8" textLength="73.8" lengthAdjust="spacingAndGlyphs" class="h" fill="#3a3a3a">dimensionless</text>
<text x="147.9" y="316.6" font-size="8.05" textLength="29.8" lengthAdjust="spacingAndGlyphs" class="h" fill="#3a3a3a">MEAN=</text>
<text x="192.3" y="316.6" font-size="8.05" textLength="19.2" lengthAdjust="spacingAndGlyphs" class="h" fill="#3a3a3a">0.60</text>
<text x="221.4" y="316.6" font-size="8.05" textLength="20.0" lengthAdjust="spacingAndGlyphs" class="h" fill="#3a3a3a">Min=</text>
<text x="256.8" y="316.6" font-size="8.05" textLength="19.0" lengthAdjust="spacingAndGlyphs" class="h" fill="#3a3a3a">0.42</text>
<text x="286.0" y="316.6" font-size="8.05" textLength="22.8" lengthAdjust="spacingAndGlyphs" class="h" fill="#3a3a3a">Max=</text>
<text x="323.8" y="316.6" font-size="8.05" textLength="19.2" lengthAdjust="spacingAndGlyphs" class="h" fill="#3a3a3a">0.72</text>
<rect x="146.00" y="323.6" width="12.47" height="9.9" fill="#000084"/>
<rect x="158.42" y="323.6" width="12.47" height="9.9" fill="#0012b5"/>
<rect x="170.84" y="323.6" width="12.47" height="9.9" fill="#001edd"/>
<rect x="183.26" y="323.6" width="12.47" height="9.9" fill="#143cff"/>
<rect x="195.68" y="323.6" width="12.47" height="9.9" fill="#3c78ff"/>
<rect x="208.10" y="323.6" width="12.47" height="9.9" fill="#78a0ff"/>
<rect x="220.52" y="323.6" width="12.47" height="9.9" fill="#aac8ff"/>
<rect x="232.94" y="323.6" width="12.47" height="9.9" fill="#d7ebff"/>
<rect x="245.36" y="323.6" width="12.47" height="9.9" fill="#ffebd7"/>
<rect x="257.78" y="323.6" width="12.47" height="9.9" fill="#ffcdb4"/>
<rect x="270.20" y="323.6" width="12.47" height="9.9" fill="#ffaa82"/>
<rect x="282.62" y="323.6" width="12.47" height="9.9" fill="#ff783c"/>
<rect x="295.04" y="323.6" width="12.47" height="9.9" fill="#ff5014"/>
<rect x="307.46" y="323.6" width="12.47" height="9.9" fill="#e63200"/>
<rect x="319.88" y="323.6" width="12.47" height="9.9" fill="#b41e00"/>
<rect x="332.30" y="323.6" width="12.47" height="9.9" fill="#840000"/>
<path d="M146.00,323.6v9.9M158.42,323.6v9.9M170.84,323.6v9.9M183.26,323.6v9.9M195.68,323.6v9.9M208.10,323.6v9.9M220.52,323.6v9.9M232.94,323.6v9.9M245.36,323.6v9.9M257.78,323.6v9.9M270.20,323.6v9.9M282.62,323.6v9.9M295.04,323.6v9.9M307.46,323.6v9.9M319.88,323.6v9.9M332.30,323.6v9.9M344.72,323.6v9.9M146.0,323.6h198.72M146.0,333.5h198.72" stroke="#000" stroke-width="0.8" fill="none"/>
<text x="149.61999999999998" y="344.9" font-size="7.86" textLength="17.6" lengthAdjust="spacingAndGlyphs" class="h" fill="#3a3a3a">0.05</text>
<text x="174.45999999999998" y="344.9" font-size="7.86" textLength="17.6" lengthAdjust="spacingAndGlyphs" class="h" fill="#3a3a3a">0.15</text>
<text x="199.29999999999998" y="344.9" font-size="7.86" textLength="17.6" lengthAdjust="spacingAndGlyphs" class="h" fill="#3a3a3a">0.25</text>
<text x="226.44" y="344.9" font-size="7.86" textLength="13.0" lengthAdjust="spacingAndGlyphs" class="h" fill="#3a3a3a">0.4</text>
<text x="251.27999999999997" y="344.9" font-size="7.86" textLength="13.0" lengthAdjust="spacingAndGlyphs" class="h" fill="#3a3a3a">0.6</text>
<text x="273.82" y="344.9" font-size="7.86" textLength="17.6" lengthAdjust="spacingAndGlyphs" class="h" fill="#3a3a3a">0.75</text>
<text x="298.66" y="344.9" font-size="7.86" textLength="17.6" lengthAdjust="spacingAndGlyphs" class="h" fill="#3a3a3a">0.85</text>
<text x="323.5" y="344.9" font-size="7.86" textLength="17.6" lengthAdjust="spacingAndGlyphs" class="h" fill="#3a3a3a">0.95</text>
<text x="357.1" y="316.6" font-size="8.05" textLength="29.8" lengthAdjust="spacingAndGlyphs" class="h" fill="#3a3a3a">MEAN=</text>
<text x="401.5" y="316.6" font-size="8.05" textLength="19.2" lengthAdjust="spacingAndGlyphs" class="h" fill="#3a3a3a">0.56</text>
<text x="430.6" y="316.6" font-size="8.05" textLength="20.0" lengthAdjust="spacingAndGlyphs" class="h" fill="#3a3a3a">Min=</text>
<text x="466.0" y="316.6" font-size="8.05" textLength="19.0" lengthAdjust="spacingAndGlyphs" class="h" fill="#3a3a3a">0.30</text>
<text x="495.2" y="316.6" font-size="8.05" textLength="22.8" lengthAdjust="spacingAndGlyphs" class="h" fill="#3a3a3a">Max=</text>
<text x="533.0" y="316.6" font-size="8.05" textLength="19.2" lengthAdjust="spacingAndGlyphs" class="h" fill="#3a3a3a">0.82</text>
<rect x="355.20" y="323.6" width="12.47" height="9.9" fill="#000084"/>
<rect x="367.62" y="323.6" width="12.47" height="9.9" fill="#0012b5"/>
<rect x="380.04" y="323.6" width="12.47" height="9.9" fill="#001edd"/>
<rect x="392.46" y="323.6" width="12.47" height="9.9" fill="#143cff"/>
<rect x="404.88" y="323.6" width="12.47" height="9.9" fill="#3c78ff"/>
<rect x="417.30" y="323.6" width="12.47" height="9.9" fill="#78a0ff"/>
<rect x="429.72" y="323.6" width="12.47" height="9.9" fill="#aac8ff"/>
<rect x="442.14" y="323.6" width="12.47" height="9.9" fill="#d7ebff"/>
<rect x="454.56" y="323.6" width="12.47" height="9.9" fill="#ffebd7"/>
<rect x="466.98" y="323.6" width="12.47" height="9.9" fill="#ffcdb4"/>
<rect x="479.40" y="323.6" width="12.47" height="9.9" fill="#ffaa82"/>
<rect x="491.82" y="323.6" width="12.47" height="9.9" fill="#ff783c"/>
<rect x="504.24" y="323.6" width="12.47" height="9.9" fill="#ff5014"/>
<rect x="516.66" y="323.6" width="12.47" height="9.9" fill="#e63200"/>
<rect x="529.08" y="323.6" width="12.47" height="9.9" fill="#b41e00"/>
<rect x="541.50" y="323.6" width="12.47" height="9.9" fill="#840000"/>
<path d="M355.20,323.6v9.9M367.62,323.6v9.9M380.04,323.6v9.9M392.46,323.6v9.9M404.88,323.6v9.9M417.30,323.6v9.9M429.72,323.6v9.9M442.14,323.6v9.9M454.56,323.6v9.9M466.98,323.6v9.9M479.40,323.6v9.9M491.82,323.6v9.9M504.24,323.6v9.9M516.66,323.6v9.9M529.08,323.6v9.9M541.50,323.6v9.9M553.92,323.6v9.9M355.2,323.6h198.72M355.2,333.5h198.72" stroke="#000" stroke-width="0.8" fill="none"/>
<text x="358.82" y="344.9" font-size="7.86" textLength="17.6" lengthAdjust="spacingAndGlyphs" class="h" fill="#3a3a3a">0.05</text>
<text x="383.65999999999997" y="344.9" font-size="7.86" textLength="17.6" lengthAdjust="spacingAndGlyphs" class="h" fill="#3a3a3a">0.15</text>
<text x="408.5" y="344.9" font-size="7.86" textLength="17.6" lengthAdjust="spacingAndGlyphs" class="h" fill="#3a3a3a">0.25</text>
<text x="435.64" y="344.9" font-size="7.86" textLength="13.0" lengthAdjust="spacingAndGlyphs" class="h" fill="#3a3a3a">0.4</text>
<text x="460.48" y="344.9" font-size="7.86" textLength="13.0" lengthAdjust="spacingAndGlyphs" class="h" fill="#3a3a3a">0.6</text>
<text x="483.02" y="344.9" font-size="7.86" textLength="17.6" lengthAdjust="spacingAndGlyphs" class="h" fill="#3a3a3a">0.75</text>
<text x="507.85999999999996" y="344.9" font-size="7.86" textLength="17.6" lengthAdjust="spacingAndGlyphs" class="h" fill="#3a3a3a">0.85</text>
<text x="532.7" y="344.9" font-size="7.86" textLength="17.6" lengthAdjust="spacingAndGlyphs" class="h" fill="#3a3a3a">0.95</text>
<text x="463.6" y="439.0" font-size="8.84" textLength="25.7" lengthAdjust="spacingAndGlyphs" class="h" fill="#3a3a3a">MIN&#160;=</text>
<text x="501.1" y="439.0" font-size="8.84" textLength="25.7" lengthAdjust="spacingAndGlyphs" class="h" fill="#3a3a3a">−0.22</text>
<text x="532.1" y="439.0" font-size="8.84" textLength="28.3" lengthAdjust="spacingAndGlyphs" class="h" fill="#3a3a3a">MAX&#160;=</text>
<text x="575.0" y="439.0" font-size="8.84" textLength="19.3" lengthAdjust="spacingAndGlyphs" class="h" fill="#3a3a3a">0.37</text>
<rect x="503.9" y="456.90" width="23.3" height="10.31" fill="#840000"/>
<rect x="503.9" y="467.16" width="23.3" height="10.31" fill="#b41e00"/>
<rect x="503.9" y="477.42" width="23.3" height="10.31" fill="#e63200"/>
<rect x="503.9" y="487.68" width="23.3" height="10.31" fill="#ff5014"/>
<rect x="503.9" y="497.94" width="23.3" height="10.31" fill="#ff783c"/>
<rect x="503.9" y="508.20" width="23.3" height="10.31" fill="#ffaa82"/>
<rect x="503.9" y="518.46" width="23.3" height="10.31" fill="#ffcdb4"/>
<rect x="503.9" y="528.72" width="23.3" height="10.31" fill="#ffebd7"/>
<rect x="503.9" y="538.98" width="23.3" height="10.31" fill="#d7ebff"/>
<rect x="503.9" y="549.24" width="23.3" height="10.31" fill="#aac8ff"/>
<rect x="503.9" y="559.50" width="23.3" height="10.31" fill="#78a0ff"/>
<rect x="503.9" y="569.76" width="23.3" height="10.31" fill="#3c78ff"/>
<rect x="503.9" y="580.02" width="23.3" height="10.31" fill="#143cff"/>
<rect x="503.9" y="590.28" width="23.3" height="10.31" fill="#001edd"/>
<rect x="503.9" y="600.54" width="23.3" height="10.31" fill="#0012b5"/>
<rect x="503.9" y="610.80" width="23.3" height="10.31" fill="#000084"/>
<path d="M503.9,456.90h23.3M503.9,467.16h23.3M503.9,477.42h23.3M503.9,487.68h23.3M503.9,497.94h23.3M503.9,508.20h23.3M503.9,518.46h23.3M503.9,528.72h23.3M503.9,538.98h23.3M503.9,549.24h23.3M503.9,559.50h23.3M503.9,569.76h23.3M503.9,580.02h23.3M503.9,590.28h23.3M503.9,600.54h23.3M503.9,610.80h23.3M503.9,621.06h23.3M503.9,456.9v164.16M527.1999999999999,456.9v164.16" stroke="#000" stroke-width="0.8" fill="none"/>
<text x="533.7" y="470.15999999999997" font-size="8.25" textLength="18.6" lengthAdjust="spacingAndGlyphs" class="h" fill="#3a3a3a">0.25</text>
<text x="536.25" y="480.41999999999996" font-size="8.25" textLength="13.5" lengthAdjust="spacingAndGlyphs" class="h" fill="#3a3a3a">0.2</text>
<text x="533.7" y="490.67999999999995" font-size="8.25" textLength="18.6" lengthAdjust="spacingAndGlyphs" class="h" fill="#3a3a3a">0.15</text>
<text x="536.25" y="500.94" font-size="8.25" textLength="13.5" lengthAdjust="spacingAndGlyphs" class="h" fill="#3a3a3a">0.1</text>
<text x="533.7" y="511.2" font-size="8.25" textLength="18.6" lengthAdjust="spacingAndGlyphs" class="h" fill="#3a3a3a">0.07</text>
<text x="533.7" y="521.46" font-size="8.25" textLength="18.6" lengthAdjust="spacingAndGlyphs" class="h" fill="#3a3a3a">0.05</text>
<text x="533.7" y="531.72" font-size="8.25" textLength="18.6" lengthAdjust="spacingAndGlyphs" class="h" fill="#3a3a3a">0.03</text>
<text x="540.4" y="541.98" font-size="8.25" textLength="5.2" lengthAdjust="spacingAndGlyphs" class="h" fill="#3a3a3a">0</text>
<text x="530.8" y="552.24" font-size="8.25" textLength="24.400000000000002" lengthAdjust="spacingAndGlyphs" class="h" fill="#3a3a3a">−0.03</text>
<text x="530.8" y="562.5" font-size="8.25" textLength="24.400000000000002" lengthAdjust="spacingAndGlyphs" class="h" fill="#3a3a3a">−0.05</text>
<text x="530.8" y="572.76" font-size="8.25" textLength="24.400000000000002" lengthAdjust="spacingAndGlyphs" class="h" fill="#3a3a3a">−0.07</text>
<text x="533.35" y="583.02" font-size="8.25" textLength="19.3" lengthAdjust="spacingAndGlyphs" class="h" fill="#3a3a3a">−0.1</text>
<text x="530.8" y="593.28" font-size="8.25" textLength="24.400000000000002" lengthAdjust="spacingAndGlyphs" class="h" fill="#3a3a3a">−0.15</text>
<text x="533.35" y="603.54" font-size="8.25" textLength="19.3" lengthAdjust="spacingAndGlyphs" class="h" fill="#3a3a3a">−0.2</text>
<text x="530.8" y="613.8" font-size="8.25" textLength="24.400000000000002" lengthAdjust="spacingAndGlyphs" class="h" fill="#3a3a3a">−0.25</text>
</svg>
</body></html>
